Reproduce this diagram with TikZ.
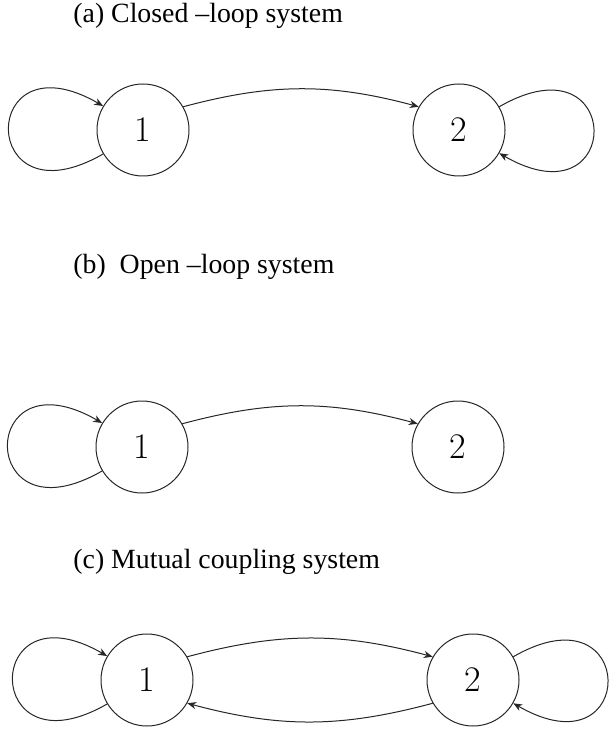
\documentclass[tikz,border=0pt]{standalone}
\usepackage{fontspec}
\newfontfamily\titlefont{Liberation Serif}
\usetikzlibrary{arrows.meta}
\tikzset{>={Stealth[length=4.5pt,width=3.6pt]}, line/.style={line width=0.5pt, draw=black!85},
state/.style={circle, draw=black!85, line width=0.5pt, minimum size=46pt, inner sep=0pt, font=\fontsize{18}{20}\selectfont},
title/.style={anchor=base west, inner sep=0pt, font=\titlefont\fontsize{13.9}{16}\selectfont}}

\begin{document}
\begin{tikzpicture}[x=0.5pt, y=0.5pt]
\useasboundingbox (0,0) rectangle (610,-731);

% (a) closed loop
\node[title] (ta) at (73,-23) {(a) Closed –loop system};
\node[state] (a1) at (143,-130) {1};
\node[state] (a2) at (459,-130) {2};
\draw[->,line] (a1.211) .. controls +(210:145) and +(150:145) .. (a1.149);
\draw[->,line] (a1.30) to[bend left=15] (a2.150);
\draw[->,line] (a2.30) .. controls +(30:145) and +(-30:145) .. (a2.-30);

% (b) open loop
\node[title] (tb) at (73,-274) {(b)\ \ Open –loop system};
\node[state] (b1) at (142,-447) {1};
\node[state] (b2) at (458,-447) {2};
\draw[->,line] (b1.211) .. controls +(210:145) and +(150:145) .. (b1.149);
\draw[->,line] (b1.30) to[bend left=15] (b2.150);

% (c) mutual coupling
\node[title] (tc) at (73,-568) {(c) Mutual coupling system};
\node[state] (c1) at (147,-680) {1};
\node[state] (c2) at (473,-680) {2};
\draw[->,line] (c1.211) .. controls +(210:145) and +(150:145) .. (c1.149);
\draw[->,line] (c1.30) to[bend left=15] (c2.150);
\draw[->,line] (c2.210) to[bend left=15] (c1.-30);
\draw[->,line] (c2.30) .. controls +(30:145) and +(-30:145) .. (c2.-30);
\end{tikzpicture}
\end{document}
